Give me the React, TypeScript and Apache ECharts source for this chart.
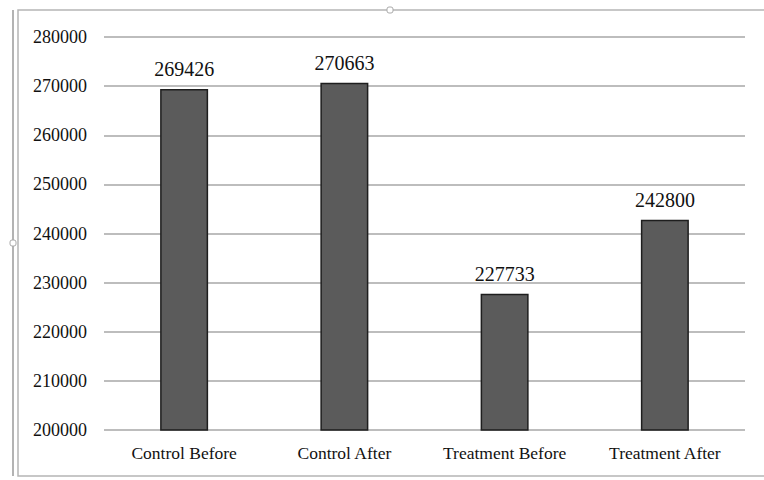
import React, { useEffect, useRef } from "react";
import * as echarts from "echarts";

const categories = ["Control Before", "Control After", "Treatment Before", "Treatment After"];
const values = [269426, 270663, 227733, 242800];
const yMin = 200000;
const yMax = 280000;
const yInterval = 10000;

export default function App() {
  const ref = useRef<HTMLDivElement>(null);
  useEffect(() => {
    if (!ref.current) return;
    const chart = echarts.init(ref.current, null, { renderer: "svg" });
    const font = "Liberation Serif";
    chart.setOption({
      animation: false,
      backgroundColor: "#ffffff",
      textStyle: { fontFamily: font },
      grid: { left: 104, right: 19, top: 37, bottom: 50 },
      xAxis: {
        type: "category",
        data: categories,
        axisLine: { show: false },
        axisTick: { show: false },
        axisLabel: {
          color: "#111",
          fontFamily: font,
          fontSize: 17.5,
          margin: 14,
          interval: 0,
          hideOverlap: false,
        },
      },
      yAxis: {
        type: "value",
        min: yMin,
        max: yMax,
        interval: yInterval,
        axisLine: { show: false },
        axisTick: { show: false },
        axisLabel: {
          color: "#111",
          fontFamily: font,
          fontSize: 18,
          margin: 17,
          formatter: (v: number) => String(v),
        },
        splitLine: { lineStyle: { color: "#bdbdbd", width: 2 } },
      },
      series: [
        {
          type: "bar",
          data: values,
          barWidth: 48,
          itemStyle: { color: "#5b5b5b", borderColor: "#1e1e1e", borderWidth: 1.5 },
          label: {
            show: true,
            position: "top",
            distance: 10,
            color: "#111",
            fontFamily: font,
            fontSize: 20,
          },
        },
      ],
      graphic: [
        {
          type: "rect",
          shape: { x: 18, y: 10, width: 780, height: 466 },
          style: { fill: "none", stroke: "#b5b5b5", lineWidth: 1.5 },
          silent: true,
        },
        {
          type: "line",
          shape: { x1: 13, y1: 10, x2: 13, y2: 476 },
          style: { stroke: "#9a9a9a", lineWidth: 1.5 },
          silent: true,
        },
        {
          type: "rect",
          shape: { x: 387, y: 7, width: 6, height: 6, r: 2 },
          style: { fill: "#fff", stroke: "#aaa", lineWidth: 1 },
          silent: true,
        },
        {
          type: "rect",
          shape: { x: 10, y: 240, width: 6, height: 6, r: 2 },
          style: { fill: "#fff", stroke: "#aaa", lineWidth: 1 },
          silent: true,
        },
      ],
    });
    return () => chart.dispose();
  }, []);
  return (
    <div
      ref={ref}
      style={{ position: "fixed", left: 0, top: 0, width: 764, height: 480 }}
    />
  );
}
